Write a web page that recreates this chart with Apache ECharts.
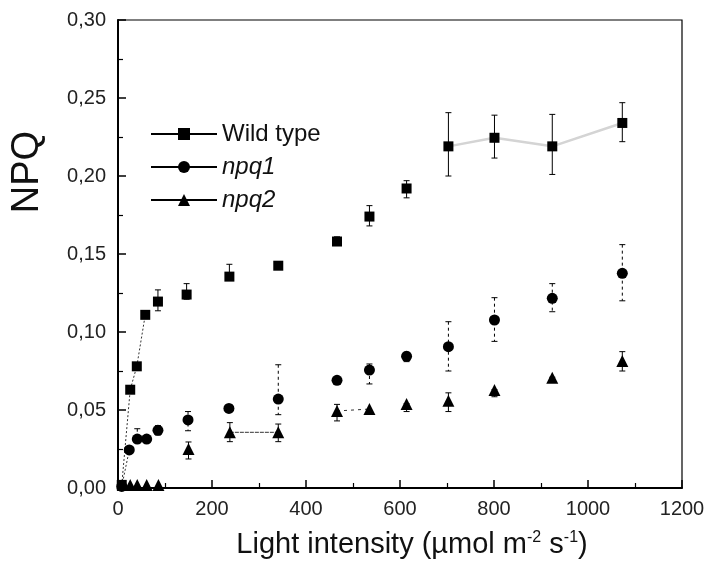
<!DOCTYPE html>
<html>
<head>
<meta charset="utf-8">
<script src="https://cdn.jsdelivr.net/npm/echarts@6/dist/echarts.min.js"></script>
<style>html,body{margin:0;padding:0;background:#fff}#c{width:712px;height:569px}</style>
</head>
<body>
<div id="c"></div>
<script>
// ---- data ----
var wtX   = [8, 26, 40, 58, 85, 146, 237, 341, 466, 535, 614, 703, 801, 924, 1073];
var wtY   = [0.002, 0.063, 0.078, 0.111, 0.1195, 0.124, 0.1355, 0.1425, 0.158, 0.174, 0.192, 0.219, 0.2245, 0.219, 0.234];
var wtLo  = [null, null, null, null, 0.1136, 0.121, 0.1355, 0.1425, 0.157, 0.168, 0.186, 0.200, 0.2115, 0.201, 0.222];
var wtHi  = [null, null, null, null, 0.127, 0.131, 0.1434, 0.145, 0.161, 0.181, 0.197, 0.2406, 0.239, 0.2395, 0.247];

var n1X   = [8, 24, 41, 61, 85, 149, 236, 341, 466, 535, 614, 703, 801, 924, 1073];
var n1Y   = [0.001, 0.0244, 0.0314, 0.0314, 0.037, 0.0436, 0.051, 0.057, 0.069, 0.0756, 0.0844, 0.0906, 0.1077, 0.1216, 0.1376];
var n1Lo  = [null, null, 0.031, null, 0.034, 0.0367, null, 0.047, null, 0.0667, 0.081, 0.075, 0.094, 0.113, 0.120];
var n1Hi  = [null, null, 0.038, null, 0.040, 0.049, null, 0.079, null, 0.0795, 0.087, 0.1066, 0.122, 0.131, 0.156];

var n2X   = [10, 26, 41, 61, 86, 150, 238, 341, 466, 535, 614, 703, 801, 924, 1073];
var n2Y   = [0.002, 0.002, 0.002, 0.002, 0.002, 0.025, 0.0357, 0.0357, 0.0494, 0.0506, 0.0538, 0.056, 0.0628, 0.0707, 0.0814];
var n2Lo  = [null, null, null, null, null, 0.0186, 0.0297, 0.0297, 0.043, null, 0.049, 0.049, 0.0585, 0.069, 0.075];
var n2Hi  = [null, null, null, null, null, 0.0295, 0.0419, 0.041, 0.0536, null, 0.054, 0.061, 0.063, 0.071, 0.0874];

var xTicks = [0, 200, 400, 600, 800, 1000, 1200];
var yTicks = [0, 0.05, 0.10, 0.15, 0.20, 0.25, 0.30];
var seriesNames = ['Wild type', 'npq1', 'npq2'];

// ---- helpers ----
function pts(xs, ys, a, b) {
  var out = [];
  for (var i = (a || 0); i < (b == null ? xs.length : b); i++) out.push([xs[i], ys[i]]);
  return out;
}
function errData(xs, lo, hi) {
  var out = [];
  for (var i = 0; i < xs.length; i++) if (lo[i] != null) out.push([xs[i], lo[i], hi[i]]);
  return out;
}
function errSeries(xs, lo, hi, dashed) {
  return {
    type: 'custom', name: 'err', silent: true, z: 1,
    data: errData(xs, lo, hi),
    renderItem: function (params, api) {
      var x = api.value(0), l = api.value(1), h = api.value(2);
      var pH = api.coord([x, h]), pL = api.coord([x, l]);
      var st = { stroke: '#000', lineWidth: 1, lineDash: dashed ? [3, 3] : null };
      return {
        type: 'group', children: [
          { type: 'line', shape: { x1: pH[0], y1: pH[1], x2: pL[0], y2: pL[1] }, style: st },
          { type: 'line', shape: { x1: pH[0] - 3, y1: pH[1], x2: pH[0] + 3, y2: pH[1] }, style: { stroke: '#000', lineWidth: 1 } },
          { type: 'line', shape: { x1: pL[0] - 3, y1: pL[1], x2: pL[0] + 3, y2: pL[1] }, style: { stroke: '#000', lineWidth: 1 } }
        ]
      };
    }
  };
}
var FONT = 'Liberation Sans, Arial, Helvetica, sans-serif';
var BLK = { color: '#000', opacity: 1 };

var chart = echarts.init(document.getElementById('c'));
var option = {
  animation: false,
  backgroundColor: '#fff',
  grid: { left: 118, right: 30, top: 20, bottom: 81, show: true, borderColor: '#000', borderWidth: 1.2 },
  legend: {
    data: seriesNames,
    orient: 'vertical', left: 145, top: 117,
    itemWidth: 66, itemHeight: 15, itemGap: 9,
    textStyle: { fontFamily: FONT, fontSize: 24, color: '#111', rich: { i: { fontFamily: FONT, fontSize: 24, fontStyle: 'italic', color: '#111' } } },
    formatter: function (n) { return n === 'Wild type' ? n : '{i|' + n + '}'; }
  },
  xAxis: {
    type: 'value', min: xTicks[0], max: xTicks[xTicks.length - 1], interval: 200,
    axisLine: { lineStyle: { color: '#000', width: 2 } },
    axisTick: { inside: true, length: 8, lineStyle: { color: '#000', width: 1.5 } },
    minorTick: { show: true, splitNumber: 2, length: 5, lineStyle: { color: '#000', width: 1.2 } },
    splitLine: { show: false },
    axisLabel: { fontFamily: FONT, fontSize: 20, color: '#222', margin: 11,
      formatter: function (v) { return String(v); } }
  },
  yAxis: {
    type: 'value', min: yTicks[0], max: yTicks[yTicks.length - 1], interval: 0.05,
    axisLine: { lineStyle: { color: '#000', width: 2 } },
    axisTick: { inside: true, length: 8, lineStyle: { color: '#000', width: 1.5 } },
    minorTick: { show: true, splitNumber: 2, length: 5, lineStyle: { color: '#000', width: 1.2 } },
    splitLine: { show: false },
    axisLabel: { fontFamily: FONT, fontSize: 20, color: '#222', margin: 12,
      formatter: function (v) { return v.toFixed(2).replace('.', ','); } }
  },
  graphic: [
    { type: 'text', x: 28, y: 172, rotation: Math.PI / 2,
      style: { text: 'NPQ', fontFamily: FONT, fontSize: 38, fill: '#111', align: 'center', verticalAlign: 'middle' } },
    { type: 'text', x: 412, y: 545,
      style: { text: '{a|Light intensity (µmol m}{s|-2}{a| s}{s|-1}{a|)}', align: 'center', verticalAlign: 'middle',
        rich: { a: { fontFamily: FONT, fontSize: 29, fill: '#111' },
                s: { fontFamily: FONT, fontSize: 16, fill: '#111', verticalAlign: 'top', padding: [0, 0, 14, 0] } } } }
  ],
  series: [
    // legend entries (line + marker)
    { type: 'line', name: 'Wild type', data: [], symbol: 'rect', symbolSize: 11, itemStyle: BLK, lineStyle: { color: '#000', width: 1 } },
    { type: 'line', name: 'npq1', data: [], symbol: 'circle', symbolSize: 12, itemStyle: BLK, lineStyle: { color: '#000', width: 1 } },
    { type: 'line', name: 'npq2', data: [], symbol: 'triangle', symbolSize: 15, itemStyle: BLK, lineStyle: { color: '#000', width: 1 } },
    // connecting fragments visible in the reference
    { type: 'line', name: 'wtLow', data: pts(wtX, wtY, 0, 4), symbol: 'none', lineStyle: { color: '#333', width: 1, type: [2, 2] }, z: 1 },
    { type: 'line', name: 'wtHigh', data: pts(wtX, wtY, 11, 15), symbol: 'none', lineStyle: { color: '#d4d4d4', width: 2.5 }, z: 1 },
    { type: 'line', name: 'n1Low', data: pts(n1X, n1Y, 0, 2), symbol: 'none', lineStyle: { color: '#333', width: 1, type: [2, 2] }, z: 1 },
    { type: 'line', name: 'n2a', data: pts(n2X, n2Y, 6, 8), symbol: 'none', lineStyle: { color: '#333', width: 1, type: [4, 1] }, z: 1 },
    { type: 'line', name: 'n2b', data: pts(n2X, n2Y, 8, 10), symbol: 'none', lineStyle: { color: '#333', width: 1, type: [3, 4] }, z: 1 },
    errSeries(wtX, wtLo, wtHi, false),
    errSeries(n1X, n1Lo, n1Hi, true),
    errSeries(n2X, n2Lo, n2Hi, false),
    { type: 'scatter', name: 'wtPts', data: pts(wtX, wtY), symbol: 'rect', symbolSize: 10, itemStyle: BLK, z: 3 },
    { type: 'scatter', name: 'n1Pts', data: pts(n1X, n1Y), symbol: 'circle', symbolSize: 11, itemStyle: BLK, z: 3 },
    { type: 'scatter', name: 'n2Pts', data: pts(n2X, n2Y), symbol: 'triangle', symbolSize: 12, itemStyle: BLK, z: 3 }
  ]
};
chart.setOption(option);
</script>
</body>
</html>
